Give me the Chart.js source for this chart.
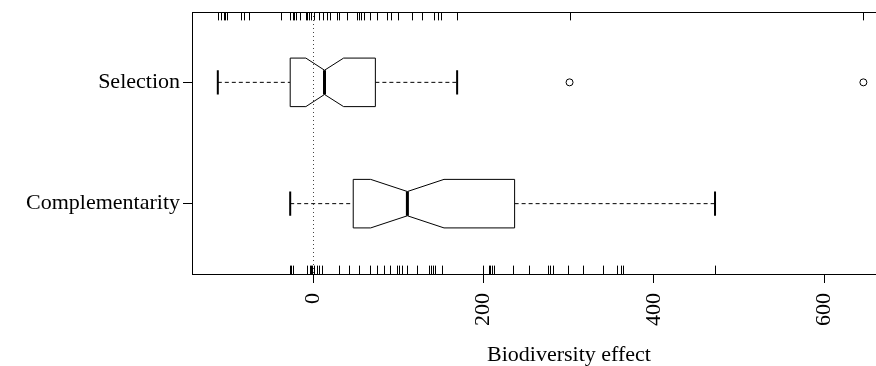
<!DOCTYPE html>
<html>
<head>
<meta charset="utf-8">
<script src="https://cdn.jsdelivr.net/npm/chart.js@4"></script>
<style>
html, body { margin: 0; padding: 0; background: #fff; overflow: hidden; }
#wrap { width: 876px; height: 366px; overflow: hidden; }
</style>
</head>
<body>
<div id="wrap"><canvas id="chart" width="960" height="366" style="width:960px;height:366px"></canvas></div>
<script>
// groups bottom to top (R boxplot positions 1, 2)
var groups = ['Complementarity', 'Selection'];
var whiskerLow  = [-27, -112];
var q1          = [47, -27];
var notchLow    = [67.5, -8.6];
var median      = [110.6, 13.3];
var notchHigh   = [153.6, 35.7];
var q3          = [236.5, 73];
var whiskerHigh = [471.8, 169];
var outliersSelection = [301, 646];

// rug values (bottom rug = Complementarity, top rug = Selection)
var rugComplementarity = [-27, -26, -24, -7, -4, -2, -1, 1, 4, 7, 10, 30, 42, 54, 67, 75, 83, 90, 98, 101,
    104, 110, 122, 136, 138, 141, 143, 151, 199, 206, 208, 210, 212, 235, 253, 276, 278, 281, 299, 317,
    340, 357, 361, 364, 472];
var rugSelection = [-112, -108, -105, -103, -101, -85, -81, -75, -38, -27, -24, -22, -20, -15, -9, -7, -5,
    -2, 1, 7, 11, 16, 20, 28, 30, 40, 52, 54, 56, 60, 67, 75, 87, 91, 99, 116, 128, 142, 146, 150, 169,
    301, 646];

var xTicks = [0, 200, 400, 600];
var xLabel = 'Biodiversity effect';

var FONT = 'Liberation Serif';

// draws frame, zero line, rugs and notched boxes through the chart scales
var boxPlugin = {
    id: 'notchedBoxes',
    afterDraw: function(chart) {
        var ctx = chart.ctx;
        var a = chart.chartArea;
        var x = chart.scales.x;
        var y = chart.scales.y;
        ctx.save();
        ctx.strokeStyle = '#000';

        // frame
        ctx.lineWidth = 1;
        ctx.strokeRect(Math.round(a.left) + 0.5, Math.round(a.top) + 0.5,
            Math.round(a.right - a.left), Math.round(a.bottom - a.top));

        ctx.beginPath();
        ctx.rect(a.left, a.top, a.right - a.left, a.bottom - a.top);
        ctx.clip();

        // rugs
        var len = 0.032 * (a.bottom - a.top);
        ctx.lineWidth = 1;
        ctx.beginPath();
        rugSelection.forEach(function(v) {
            var px = Math.round(x.getPixelForValue(v)) + 0.5;
            ctx.moveTo(px, a.top);
            ctx.lineTo(px, a.top + len);
        });
        rugComplementarity.forEach(function(v) {
            var px = Math.round(x.getPixelForValue(v)) + 0.5;
            ctx.moveTo(px, a.bottom);
            ctx.lineTo(px, a.bottom - len);
        });
        ctx.stroke();

        // boxes
        groups.forEach(function(name, i) {
            var yc = y.getPixelForValue(i + 1);
            var h = Math.abs(y.getPixelForValue(i + 1.2) - yc);
            var px = function(v) { return x.getPixelForValue(v); };

            // whiskers
            ctx.setLineDash([4, 3]);
            ctx.lineWidth = 1;
            ctx.beginPath();
            ctx.moveTo(px(whiskerLow[i]), yc);
            ctx.lineTo(px(q1[i]), yc);
            ctx.moveTo(px(q3[i]), yc);
            ctx.lineTo(px(whiskerHigh[i]), yc);
            ctx.stroke();
            ctx.setLineDash([]);

            // staples
            ctx.lineWidth = 2;
            ctx.beginPath();
            ctx.moveTo(px(whiskerLow[i]), yc - h / 2);
            ctx.lineTo(px(whiskerLow[i]), yc + h / 2);
            ctx.moveTo(px(whiskerHigh[i]), yc - h / 2);
            ctx.lineTo(px(whiskerHigh[i]), yc + h / 2);
            ctx.stroke();

            // notched box
            ctx.lineWidth = 1;
            ctx.fillStyle = '#fff';
            ctx.beginPath();
            ctx.moveTo(px(q1[i]), yc - h);
            ctx.lineTo(px(notchLow[i]), yc - h);
            ctx.lineTo(px(median[i]), yc - h / 2);
            ctx.lineTo(px(notchHigh[i]), yc - h);
            ctx.lineTo(px(q3[i]), yc - h);
            ctx.lineTo(px(q3[i]), yc + h);
            ctx.lineTo(px(notchHigh[i]), yc + h);
            ctx.lineTo(px(median[i]), yc + h / 2);
            ctx.lineTo(px(notchLow[i]), yc + h);
            ctx.lineTo(px(q1[i]), yc + h);
            ctx.closePath();
            ctx.fill();
            ctx.stroke();

            // median
            ctx.lineWidth = 3;
            ctx.beginPath();
            ctx.moveTo(px(median[i]), yc - h / 2);
            ctx.lineTo(px(median[i]), yc + h / 2);
            ctx.stroke();
        });

        // dotted zero line
        ctx.setLineDash([1, 3]);
        ctx.lineWidth = 1;
        ctx.strokeStyle = '#444';
        var z = Math.round(x.getPixelForValue(0)) + 0.5;
        ctx.beginPath();
        ctx.moveTo(z, a.top);
        ctx.lineTo(z, a.bottom);
        ctx.stroke();

        ctx.restore();
    }
};

function noPad(scale) {
    scale.paddingTop = 0;
    scale.paddingBottom = 0;
    scale.paddingLeft = 0;
    scale.paddingRight = 0;
}

var ctx = document.getElementById('chart').getContext('2d');
var chart = new Chart(ctx, {
    type: 'scatter',
    data: {
        datasets: [{
            label: 'outliers',
            data: outliersSelection.map(function(v) { return {x: v, y: 2}; }),
            pointStyle: 'circle',
            pointRadius: 3.5,
            borderColor: '#000',
            borderWidth: 1,
            backgroundColor: 'rgba(0,0,0,0)'
        }]
    },
    options: {
        responsive: false,
        animation: false,
        devicePixelRatio: 1,
        layout: { padding: { top: 12, right: 14, left: 0, bottom: 0 } },
        plugins: { legend: { display: false }, tooltip: { enabled: false } },
        scales: {
            x: {
                type: 'linear',
                position: 'bottom',
                min: -142.3,
                max: 743,
                afterBuildTicks: function(scale) {
                    scale.ticks = xTicks.map(function(v) { return {value: v}; });
                },
                afterFit: function(scale) { scale.height = 92; noPad(scale); },
                border: { display: false },
                grid: { drawOnChartArea: false, drawTicks: true, tickLength: 9, color: '#000', lineWidth: 1 },
                ticks: {
                    minRotation: 90, maxRotation: 90, padding: 10,
                    color: '#000', font: { family: FONT, size: 22 }
                },
                title: {
                    display: true, text: xLabel, color: '#000',
                    font: { family: FONT, size: 22 }, padding: { top: 0, bottom: -2 }
                }
            },
            y: {
                type: 'linear',
                min: 0.42,
                max: 2.58,
                afterBuildTicks: function(scale) {
                    scale.ticks = groups.map(function(g, i) { return {value: i + 1}; });
                },
                afterFit: function(scale) { scale.width = 192; noPad(scale); },
                border: { display: false },
                grid: { drawOnChartArea: false, drawTicks: true, tickLength: 9, color: '#000', lineWidth: 1 },
                ticks: {
                    padding: 3, color: '#000', font: { family: FONT, size: 22 },
                    callback: function(v) { return groups[v - 1]; }
                }
            }
        }
    },
    plugins: [boxPlugin]
});
</script>
</body>
</html>
